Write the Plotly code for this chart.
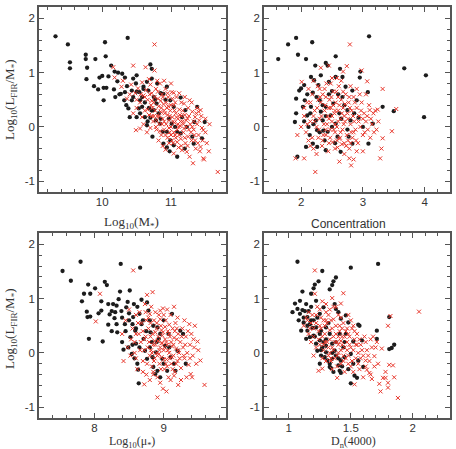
import plotly.graph_objects as go

# ---------------- data ----------------
# Panel 1: Log10(M*) vs Log10(L_FIR/M*)
black1_x = [9.32, 9.50, 9.53, 9.53, 9.76, 9.76, 9.78, 9.77, 9.90, 9.88, 9.94, 9.96, 10.00, 10.02, 10.04, 10.05,
            10.02, 10.06, 10.09, 10.13, 10.37, 10.18, 10.23, 10.17, 10.22, 10.19, 10.29, 10.33, 10.36, 10.27,
            10.32, 10.38, 10.40, 10.43, 10.45, 10.49, 10.54, 10.55, 10.53, 10.50, 10.60, 10.65, 10.67, 10.72,
            10.70, 10.75, 10.79, 10.75, 10.70, 10.65, 10.82, 10.84, 10.88, 10.73, 10.89, 10.94, 10.99, 11.04,
            11.09, 11.14, 11.16, 11.21, 11.23, 11.31, 11.33, 11.34, 11.38, 11.45, 11.49, 10.94, 10.99, 11.04,
            10.89, 10.80, 10.43, 10.58, 10.62, 10.78, 11.09, 11.01, 10.94, 11.14, 10.72, 10.33,
            10.45, 10.50, 10.58, 10.62, 10.68, 10.72, 10.77, 10.85, 10.92, 10.60, 10.55, 10.66, 10.85, 10.97,
            11.06, 10.98, 11.20, 10.50, 10.25, 10.35]
black1_y = [1.67, 1.52, 1.19, 1.08, 1.33, 1.25, 1.09, 0.88, 1.25, 0.75, 0.69, 0.91, 0.94, 0.72, 1.56, 1.30,
            0.49, 0.72, 0.93, 1.13, 1.64, 1.02, 1.00, 0.69, 0.84, 0.55, 0.98, 0.91, 0.75, 0.61,
            0.49, 0.34, 0.18, 0.67, 0.89, 0.80, 0.64, 0.49, 0.34, 0.18, 0.74, 0.83, 0.67, 1.07,
            1.15, 0.55, 0.43, 0.31, 0.17, 0.03, 0.25, 0.06, -0.09, -0.18, -0.31, -0.38, -0.25, -0.34,
            -0.55, -0.12, 0.18, 0.31, 0.00, -0.18, -0.31, 0.09, 0.37, -0.21, 0.09, 0.74, 0.49, 0.37,
            0.61, 0.80, 0.49, 0.37, 0.18, 0.12, -0.09, 0.06, -0.09, 0.54, 0.89, 0.64,
            0.55, 0.65, 0.55, 0.45, 0.35, 0.30, 0.50, 0.62, 0.50, 0.70, 0.25, 0.10, 0.15, 0.15,
            0.00, -0.45, -0.40, 0.95, 0.60, 0.40]
red1_x = [10.16, 10.18, 10.28, 10.36, 10.45, 10.63, 10.76, 10.76, 10.42, 10.48, 10.52, 10.55, 10.58, 10.60,
          10.62, 10.64, 10.66, 10.68, 10.70, 10.71, 10.72, 10.74, 10.75, 10.77, 10.78, 10.79, 10.80, 10.81,
          10.82, 10.83, 10.84, 10.85, 10.86, 10.87, 10.88, 10.89, 10.90, 10.91, 10.92, 10.93, 10.94, 10.95,
          10.96, 10.97, 10.98, 10.99, 11.00, 11.01, 11.02, 11.03, 11.04, 11.05, 11.06, 11.07, 11.08, 11.09,
          11.10, 11.11, 11.12, 11.13, 11.14, 11.15, 11.16, 11.17, 11.18, 11.19, 11.20, 11.21, 11.22, 11.23,
          11.24, 11.25, 11.27, 11.27, 11.28, 11.30, 11.31, 11.32, 11.33, 11.35, 11.36, 11.38, 11.40, 11.41,
          11.43, 11.43, 11.45, 11.47, 11.47, 11.50, 11.52, 11.68, 11.04, 10.49, 10.55, 10.60, 10.65, 10.70,
          10.72, 10.82, 10.88, 10.92, 10.97, 11.00, 10.90, 10.80, 10.68, 11.12, 11.20, 11.30, 11.38, 10.50,
          10.45, 10.58, 10.85, 10.95, 11.05, 11.15, 11.25, 11.35, 11.42, 11.00, 11.10, 11.48, 11.40, 11.04,
          10.73, 10.76, 10.79, 10.81, 10.84, 10.86, 10.88, 10.90, 10.92, 10.93, 10.95, 10.97, 10.98, 11.00,
          11.01, 11.03, 11.04, 11.06, 11.08, 11.09, 11.11, 11.12, 11.14, 11.15, 11.17, 11.18, 11.20, 11.22,
          11.24, 11.26, 11.29, 11.31, 11.34, 11.37, 11.39, 11.44, 11.46, 11.50, 11.55, 11.56, 10.62, 10.66,
          10.69, 10.72, 10.75, 10.78, 10.83, 10.87, 10.90, 10.96, 11.02, 11.07, 11.13, 11.19, 11.26, 11.33,
          10.56, 10.50, 10.40, 10.30]
red1_y = [1.10, 0.91, 0.74, 0.52, 1.13, 1.10, 1.04, 1.52, 0.78, 0.62, 0.71, 0.45, 0.82, 0.58,
          0.30, 0.68, 0.50, 0.22, 0.78, 0.40, 0.62, 0.10, 0.45, 0.30, 0.70, -0.05, 0.20, 0.52,
          0.38, 0.05, 0.80, 0.28, -0.15, 0.60, 0.15, 0.42, -0.05, 0.25, 0.70, 0.05, 0.35, -0.20,
          0.55, 0.12, -0.10, 0.30, 0.00, 0.64, 0.18, -0.30, 0.40, 0.08, -0.15, 0.25, 0.55, -0.05,
          0.15, -0.38, 0.32, 0.02, -0.22, 0.45, -0.43, 0.10, -0.10, 0.43, 0.22, -0.30, 0.00, -0.46,
          0.15, -0.18, 0.49, -0.55, 0.05, -0.25, 0.28, -0.67, -0.05, 0.18, -0.40, 0.05, -0.15, 0.12,
          0.31, -0.37, -0.02, -0.06, -0.58, 0.15, -0.30, -0.83, -0.49, -0.06, -0.03, 0.05, -0.10, -0.02,
          0.20, -0.25, -0.35, -0.42, -0.30, 0.80, 0.85, 0.85, 0.88, 0.62, 0.55, 0.45, 0.35, 0.35,
          0.25, 0.18, 0.48, 0.22, 0.30, 0.20, 0.35, -0.25, -0.45, -0.15, 0.05, -0.60, 0.28, 0.63,
          0.35, 0.55, 0.12, 0.65, -0.08, 0.35, 0.55, 0.10, -0.15, 0.45, 0.62, -0.02, 0.20, 0.40,
          -0.25, 0.10, -0.10, 0.45, 0.18, -0.28, 0.00, -0.15, 0.10, -0.35, 0.30, 0.05, -0.20, 0.12,
          -0.35, 0.20, -0.10, 0.00, -0.15, 0.25, -0.30, 0.20, -0.25, -0.10, -0.45, 0.05, 0.55, 0.32,
          0.60, 0.48, 0.20, 0.00, 0.20, 0.05, 0.30, 0.38, 0.52, -0.20, 0.22, -0.03, -0.05, 0.10,
          0.60, 0.50, 0.60, 0.85]

# Panel 2: Concentration
black2_x = [1.63, 1.79, 1.92, 1.95, 2.08, 2.18, 2.23, 2.40, 2.43, 2.56, 2.63, 3.10, 3.67, 4.02, 3.99, 3.50,
            3.32, 3.08, 3.09, 3.16, 1.94, 1.90, 1.92, 1.92, 1.97, 2.00, 2.05, 2.08, 2.06, 2.03, 2.12, 2.14,
            2.16, 2.19, 2.19, 2.26, 2.28, 2.30, 2.32, 2.35, 2.36, 2.38, 2.40, 2.45, 2.50, 2.52, 2.48, 2.56,
            2.59, 2.64, 2.67, 2.72, 2.75, 2.80, 2.83, 2.90, 2.93, 2.95, 2.96, 3.00, 2.24, 2.16, 2.40, 2.62,
            2.67, 2.43, 2.26, 2.83, 2.86, 2.21, 2.10, 2.56, 2.77, 2.32,
            2.10, 2.15, 2.25, 2.35, 2.45, 2.50, 2.60, 2.70, 2.30, 2.20, 2.40, 2.55, 2.05, 2.65, 2.75]
black2_y = [1.25, 1.52, 1.64, 1.33, 1.25, 1.56, 1.13, 1.18, 1.13, 1.30, 1.07, 1.67, 1.08, 0.95, 0.18, 0.29,
            0.37, 0.64, -0.31, 0.06, -0.55, 0.09, 0.52, 0.25, 0.67, 0.71, 0.77, -0.37, 0.49, 0.37, 0.00, -0.15,
            0.92, 0.63, -0.31, -0.37, 0.77, 0.49, 0.28, 0.12, -0.07, -0.25, -0.43, 0.83, 0.66, 0.43, 0.21, 0.06,
            -0.18, -0.46, 0.55, 0.74, 0.31, 0.12, -0.31, 0.49, 0.17, 0.91, 1.02, 0.00, 0.12, 0.37, 0.37, 0.25,
            0.92, -0.09, -0.06, 0.67, 0.25, 0.86, 0.21, 0.92, -0.18, 0.95,
            0.60, 0.25, 0.55, 0.40, 0.60, 0.00, 0.60, 0.40, -0.10, 0.05, 0.20, -0.30, 0.10, 0.15, -0.05]
red2_x = [1.91, 2.05, 1.94, 2.23, 2.62, 2.78, 2.81, 3.28, 3.30, 3.32, 3.47, 3.54, 3.32, 3.07, 2.98, 2.79,
          2.74, 2.68, 2.45, 2.32, 2.01, 3.24, 3.11, 3.15, 2.00, 2.05, 2.08, 2.10, 2.12, 2.15, 2.18, 2.20,
          2.22, 2.25, 2.27, 2.28, 2.30, 2.32, 2.34, 2.35, 2.37, 2.38, 2.40, 2.41, 2.43, 2.44, 2.46, 2.47,
          2.48, 2.50, 2.51, 2.52, 2.54, 2.55, 2.56, 2.58, 2.59, 2.60, 2.61, 2.63, 2.64, 2.65, 2.67, 2.68,
          2.70, 2.71, 2.72, 2.74, 2.75, 2.77, 2.78, 2.80, 2.82, 2.83, 2.85, 2.86, 2.88, 2.90, 2.92, 2.94,
          2.96, 2.98, 3.00, 3.02, 3.05, 3.08, 3.10, 3.13, 3.18, 3.20, 3.25, 3.00, 2.90, 2.85, 2.70, 2.55,
          2.45, 2.35, 2.25, 2.15, 2.12, 2.20, 2.50, 2.65, 2.90, 3.05, 2.95, 2.80, 2.60, 2.40, 2.30, 2.20,
          2.55, 2.70, 2.85, 3.00, 2.45, 2.62, 2.76,
          2.22, 2.26, 2.29, 2.31, 2.33, 2.36, 2.39, 2.42, 2.45, 2.47, 2.49, 2.50, 2.53, 2.55, 2.57, 2.58,
          2.60, 2.62, 2.64, 2.66, 2.69, 2.71, 2.73, 2.76, 2.79, 2.81, 2.84, 2.87, 2.89, 2.93, 2.97, 3.03,
          3.07, 3.12, 3.17, 3.22, 2.15, 2.10, 2.05, 2.18, 2.28, 2.38, 2.48, 2.58, 2.68, 2.78, 2.40, 2.52,
          2.66, 2.80]
red2_y = [-0.58, -0.58, -0.15, -0.83, -0.64, -0.58, -0.71, -0.58, -0.40, -0.21, -0.08, 0.33, 0.70, 0.84, 1.04, 1.52,
          1.12, 1.02, 1.13, 1.09, 0.83, 0.32, 0.31, 0.05, 0.00, 0.20, -0.10, 0.45, -0.25, 0.10, 0.60, -0.40,
          0.30, 0.00, 0.75, -0.20, 0.15, 0.45, -0.35, 0.60, 0.05, 0.30, -0.15, 0.80, 0.20, -0.45, 0.50, -0.05,
          0.35, 0.10, -0.28, 0.65, 0.25, -0.10, 0.45, 0.00, -0.38, 0.30, 0.75, -0.20, 0.15, 0.50, -0.05, 0.35,
          -0.30, 0.10, 0.60, -0.15, 0.25, 0.45, -0.40, 0.05, 0.30, -0.20, 0.55, 0.10, -0.05, 0.35, -0.30, 0.20,
          0.00, 0.45, -0.15, 0.25, 0.10, -0.05, 0.40, 0.15, -0.10, 0.30, 0.10, -0.45, -0.45, -0.60, -0.50, -0.40,
          -0.30, -0.25, -0.50, -0.35, 0.70, 0.85, 0.90, 0.85, 0.70, 0.60, 0.60, 0.75, 0.55, 0.55, 0.70, 0.20,
          0.05, 0.20, -0.10, 0.15, 0.15, -0.22, -0.25,
          0.10, 0.35, -0.05, 0.55, 0.20, -0.15, 0.40, 0.05, 0.35, -0.20, 0.55, 0.20, -0.05, 0.30, 0.65, -0.25,
          0.10, 0.40, -0.10, 0.25, 0.05, 0.42, -0.35, 0.15, 0.35, -0.10, 0.20, 0.45, -0.25, 0.10, 0.30, -0.10,
          0.20, -0.20, 0.25, -0.05, 0.45, 0.05, 0.35, -0.20, 0.50, 0.70, 0.80, 0.90, 0.65, 0.55, -0.05, 0.40,
          -0.32, -0.30]

# Panel 3: Log10(mu*)
black3_x = [7.54, 7.66, 7.80, 7.82, 7.91, 7.94, 7.85, 7.89, 7.90, 7.94, 7.92, 8.01, 8.06, 8.12, 8.10, 8.15,
            8.18, 8.20, 8.22, 8.25, 8.27, 8.29, 8.32, 8.33, 8.35, 8.38, 8.37, 8.39, 8.40, 8.42, 8.44, 8.46,
            8.48, 8.50, 8.51, 8.52, 8.54, 8.55, 8.57, 8.59, 8.60, 8.62, 8.63, 8.64, 8.65, 8.66, 8.68, 8.71,
            8.73, 8.76, 8.78, 8.80, 8.81, 8.83, 8.85, 8.88, 8.89, 8.91, 8.93, 8.95, 8.98, 9.00, 9.02, 9.05,
            9.07, 9.10, 9.12, 9.15, 9.17, 9.20, 9.24, 9.28, 9.32, 8.76, 8.49, 8.56, 8.68, 8.84, 8.91, 8.32,
            8.45, 8.50, 8.55, 8.60, 8.65, 8.70, 8.75, 8.80, 8.85, 8.90, 8.95, 9.00, 8.58, 8.40, 8.30, 8.20,
            8.10, 8.25, 8.62, 9.08]
black3_y = [1.51, 1.33, 1.68, 0.95, 1.26, 1.09, 1.09, 0.76, 0.66, 0.67, 0.26, 1.19, 0.73, 0.21, 0.78, 1.31,
            1.25, 0.52, 0.71, 0.77, 0.90, 0.64, 0.53, 0.38, 0.99, 1.64, 1.13, 0.77, 0.20, 0.06, 0.53, 0.84,
            0.94, 0.73, 1.15, 0.29, -0.02, 0.53, 0.90, 0.41, 0.17, -0.20, -0.31, -0.56, 0.72, 1.57, 0.53, 0.26,
            0.04, -0.11, 0.78, 0.60, 0.38, 0.20, -0.26, -0.39, 0.01, 0.47, 0.26, -0.45, -0.11, 0.60, 0.13, -0.33,
            0.35, -0.08, 0.72, -0.20, -0.33, 0.04, 0.41, 0.35, -0.20, 0.93, 0.10, 0.66, 0.98, -0.08, -0.33, 0.87,
            0.40, 0.60, 0.15, 0.45, 0.10, 0.60, 0.40, 0.10, 0.50, 0.20, 0.35, -0.20, -0.10, 0.65, 0.75, 0.90,
            0.95, 0.40, 0.85, 0.10]
red3_x = [8.56, 8.08, 8.02, 8.76, 8.84, 8.73, 8.99, 8.91, 9.04, 8.72, 9.21, 9.59, 9.49, 9.45, 9.37, 9.53,
          9.39, 9.41, 8.40, 8.42, 8.45, 8.48, 8.50, 8.52, 8.55, 8.58, 8.60, 8.62, 8.64, 8.66, 8.68, 8.70,
          8.72, 8.74, 8.75, 8.77, 8.78, 8.80, 8.81, 8.82, 8.83, 8.85, 8.86, 8.87, 8.88, 8.90, 8.91, 8.92,
          8.93, 8.94, 8.95, 8.96, 8.97, 8.98, 8.99, 9.00, 9.01, 9.02, 9.03, 9.04, 9.05, 9.06, 9.07, 9.08,
          9.09, 9.10, 9.11, 9.12, 9.13, 9.14, 9.15, 9.16, 9.17, 9.18, 9.20, 9.21, 9.22, 9.24, 9.25, 9.27,
          9.28, 9.30, 9.32, 9.34, 9.36, 9.38, 9.40, 9.42, 9.44, 9.47, 9.50, 9.33, 9.25, 9.10, 8.95, 8.80,
          8.85, 8.70, 8.60, 8.65, 8.80, 8.95, 9.05, 9.20, 9.30, 9.15, 8.90, 8.75, 8.98, 9.03, 8.87, 9.12,
          8.93, 9.08, 8.82, 9.19, 8.97,
          8.70, 8.72, 8.74, 8.76, 8.79, 8.81, 8.83, 8.84, 8.86, 8.88, 8.90, 8.91, 8.92, 8.94, 8.95, 8.96,
          8.97, 8.99, 9.00, 9.01, 9.02, 9.04, 9.05, 9.06, 9.08, 9.09, 9.11, 9.13, 9.14, 9.16, 9.18, 9.19,
          9.21, 9.23, 9.26, 9.29, 9.31, 9.35, 9.38, 9.43, 8.60, 8.63, 8.67, 8.58, 8.53, 8.78, 8.88, 9.00,
          8.85, 9.15]
red3_y = [1.52, 1.09, 0.58, 1.07, 1.12, 0.90, -0.66, -0.82, -0.71, -0.58, -0.59, -0.59, 0.21, 0.50, 0.53, -0.14,
          -0.39, -0.45, 0.35, -0.15, 0.60, 0.10, 0.80, -0.05, 0.45, 0.20, 0.70, -0.30, 0.35, 0.05, 0.55, -0.15,
          0.25, 0.75, -0.40, 0.10, 0.45, -0.05, 0.30, 0.85, -0.25, 0.15, 0.60, -0.10, 0.38, 0.00, -0.45, 0.22,
          0.70, -0.20, 0.10, 0.50, -0.08, 0.32, 0.82, 0.05, -0.30, 0.25, 0.60, -0.12, 0.15, 0.40, -0.45, 0.00,
          0.30, 0.70, -0.20, 0.12, 0.45, -0.05, 0.28, -0.35, 0.55, 0.08, -0.15, 0.35, 0.00, 0.20, -0.28, 0.45,
          0.10, -0.10, 0.30, 0.00, -0.22, 0.15, 0.35, -0.05, 0.10, -0.20, 0.05, -0.45, -0.50, -0.50, -0.55, -0.50,
          -0.35, -0.35, -0.10, 0.75, 0.72, 0.78, 0.80, 0.65, 0.60, 0.85, 0.55, 0.60, 0.18, -0.20, 0.22, -0.08,
          -0.02, 0.52, 0.05, 0.45, 0.42,
          0.40, 0.05, 0.30, -0.20, 0.20, 0.55, 0.00, 0.35, -0.15, 0.15, 0.45, -0.05, 0.30, 0.05, 0.62, -0.30,
          0.18, 0.38, -0.12, 0.10, 0.48, 0.20, -0.25, 0.05, 0.35, -0.10, 0.20, -0.30, 0.15, 0.40, -0.20, 0.25,
          0.05, -0.10, 0.30, -0.05, 0.15, 0.40, -0.10, 0.25, 0.35, 0.55, 0.20, 0.00, 0.25, 0.65, 0.75, 0.70,
          -0.40, -0.42]

# Panel 4: Dn(4000)
black4_x = [1.07, 1.72, 1.50, 1.27, 1.38, 1.36, 1.35, 1.33, 1.24, 1.21, 1.20, 1.18, 1.11, 1.09, 1.05, 1.03,
            1.07, 1.09, 1.11, 1.13, 1.15, 1.16, 1.12, 1.17, 1.19, 1.15, 1.17, 1.20, 1.22, 1.23, 1.25, 1.26,
            1.27, 1.29, 1.30, 1.31, 1.33, 1.34, 1.35, 1.37, 1.38, 1.40, 1.41, 1.42, 1.38, 1.37, 1.40, 1.42,
            1.46, 1.48, 1.50, 1.52, 1.52, 1.53, 1.55, 1.50, 1.56, 1.56, 1.57, 1.59, 1.60, 1.71, 1.71, 1.81,
            1.81, 1.83, 1.85, 1.25, 1.28, 1.22, 1.14, 1.18, 1.30, 1.33, 1.35, 1.44, 1.45, 1.46, 1.22, 1.26,
            1.30, 1.41, 1.42, 1.10, 1.14, 1.25,
            1.15, 1.20, 1.25, 1.28, 1.32, 1.35, 1.38, 1.40, 1.30, 1.23, 1.18, 1.12, 1.08, 1.33, 1.36, 1.45,
            1.48, 1.26, 1.43, 1.21]
black4_y = [1.68, 1.64, 1.57, 1.51, 1.39, 1.32, 1.25, 1.17, 1.32, 1.26, 1.19, 1.09, 1.13, 0.96, 0.91, 0.75,
            0.81, 0.72, 0.79, 0.77, 0.66, 0.77, 0.56, 0.53, 0.46, 0.41, 0.29, 0.32, 0.17, 0.04, 0.23, -0.05,
            0.10, -0.08, 0.01, -0.14, -0.26, -0.28, -0.11, 0.04, -0.05, -0.23, -0.33, -0.37, 0.81, 0.90, 0.75, 0.63,
            0.69, 0.56, -0.02, -0.20, 0.21, -0.42, -0.46, -0.56, -0.14, 0.52, 0.50, 0.23, -0.26, 0.41, 0.26, 0.66,
            0.07, 0.09, 0.15, 0.72, 0.84, 0.96, 0.90, 0.60, 0.47, 0.35, 0.17, 0.10, -0.08, 0.35, 0.47, 0.41,
            0.13, 0.35, -0.14, 0.41, 0.26, -0.20,
            0.50, 0.60, 0.35, 0.20, 0.55, 0.00, 0.20, -0.10, 0.25, 0.65, 0.85, 0.65, 0.60, -0.20, -0.35, 0.20,
            -0.30, 0.05, -0.25, 0.30]
red4_x = [1.21, 1.21, 1.44, 1.35, 1.42, 2.05, 1.82, 1.80, 1.68, 1.69, 1.81, 1.84, 1.88, 1.80, 1.80, 1.73,
          1.74, 1.76, 1.78, 1.63, 1.65, 1.66, 1.67, 1.53, 1.39, 1.27, 1.24, 1.62, 1.15, 1.17, 1.19, 1.20,
          1.22, 1.23, 1.24, 1.25, 1.26, 1.27, 1.28, 1.29, 1.30, 1.31, 1.32, 1.33, 1.34, 1.35, 1.36, 1.37,
          1.38, 1.39, 1.40, 1.41, 1.42, 1.43, 1.44, 1.45, 1.46, 1.47, 1.48, 1.49, 1.50, 1.51, 1.52, 1.53,
          1.54, 1.55, 1.56, 1.57, 1.58, 1.60, 1.61, 1.63, 1.65, 1.66, 1.70, 1.72, 1.75, 1.78, 1.85, 1.60,
          1.45, 1.35, 1.30, 1.27, 1.33, 1.40, 1.50, 1.38, 1.18, 1.20, 1.22, 1.30, 1.36, 1.42, 1.47, 1.52,
          1.34, 1.39, 1.44, 1.25, 1.29, 1.33, 1.40, 1.55, 1.48, 1.58, 1.12, 1.16, 1.43,
          1.24, 1.26, 1.28, 1.29, 1.31, 1.32, 1.33, 1.34, 1.35, 1.36, 1.37, 1.38, 1.39, 1.40, 1.41, 1.42,
          1.43, 1.44, 1.45, 1.46, 1.47, 1.48, 1.49, 1.50, 1.51, 1.53, 1.54, 1.56, 1.57, 1.59, 1.62, 1.64,
          1.67, 1.69, 1.71, 1.22, 1.25, 1.28, 1.32, 1.36, 1.20, 1.18, 1.16, 1.14, 1.30, 1.27, 1.42, 1.48,
          1.52, 1.62]
red4_y = [1.52, 1.09, 1.10, 1.01, 0.91, 0.76, 0.68, 0.50, 0.30, -0.06, -0.22, -0.23, -0.83, -0.64, -0.55, -0.57,
          -0.71, -0.46, -0.46, -0.31, -0.37, -0.40, -0.48, -0.58, -0.46, -0.29, -0.33, -0.14, 0.60, 0.45, 0.70, 0.30,
          0.55, 0.85, 0.40, 0.15, 0.65, 0.30, 0.05, 0.50, 0.75, 0.20, -0.05, 0.42, 0.60, 0.10, 0.30, -0.10,
          0.50, 0.20, 0.00, 0.40, -0.20, 0.15, 0.55, 0.30, -0.10, 0.05, 0.35, 0.15, -0.25, 0.45, 0.05, 0.25,
          -0.10, 0.35, 0.00, -0.30, 0.15, -0.05, 0.30, 0.05, -0.15, 0.25, 0.10, -0.20, 0.08, -0.35, -0.45, -0.45,
          -0.35, -0.30, 0.90, 0.95, 0.80, 0.70, 0.60, 0.85, 0.20, -0.05, 0.10, 0.60, 0.62, 0.22, 0.45, 0.50,
          -0.15, -0.25, -0.05, 0.50, 0.20, 0.00, 0.30, 0.15, -0.20, -0.10, 0.50, 0.35, 0.45,
          0.25, 0.45, 0.15, 0.35, 0.55, 0.10, 0.25, -0.10, 0.45, 0.05, 0.20, 0.35, -0.05, 0.15, 0.50, 0.05,
          0.30, -0.15, 0.10, 0.40, 0.20, -0.05, 0.30, 0.10, -0.15, 0.40, 0.15, -0.20, 0.25, 0.05, 0.20, -0.05,
          0.10, -0.25, 0.20, 0.70, 0.80, 0.60, 0.70, 0.85, 0.45, 0.55, 0.75, 0.65, -0.15, -0.10, 0.65, 0.70,
          -0.35, -0.25]

x_titles = ["Log<sub>10</sub>(M<sub>*</sub>)", "Concentration",
            "Log<sub>10</sub>(\u03bc<sub>*</sub>)", "D<sub>n</sub>(4000)"]
y_title = "Log<sub>10</sub>(L<sub>FIR</sub>/M<sub>*</sub>)"
x_ranges = [[9.08, 11.8], [1.4, 4.41], [7.2, 9.9], [0.8, 2.3]]
x_tickvals = [[10, 11], [2, 3, 4], [8, 9], [1, 1.5, 2]]
x_ticktext = [["10", "11"], ["2", "3", "4"], ["8", "9"], ["1", "1.5", "2"]]
x_minor = [0.2, 0.2, 0.2, 0.1]
y_range = [-1.2, 2.21]
y_tickvals = [-1, 0, 1, 2]
y_ticktext = ["-1", "0", "1", "2"]

W, H = 456, 449
panels_px = [(39, 226, 7, 192), (264, 450, 7, 192), (39, 226, 233, 418), (264, 450, 233, 418)]

blacks = [(black1_x, black1_y), (black2_x, black2_y), (black3_x, black3_y), (black4_x, black4_y)]
reds = [(red1_x, red1_y), (red2_x, red2_y), (red3_x, red3_y), (red4_x, red4_y)]

fig = go.Figure()
frame_col = "#555555"
for i in range(4):
    suf = "" if i == 0 else str(i + 1)
    bx, by = blacks[i]
    rx, ry = reds[i]
    fig.add_trace(go.Scatter(x=bx, y=by, mode="markers", xaxis="x" + suf, yaxis="y" + suf,
                             marker=dict(symbol="circle", size=4.3, color="#1c1c1c", line=dict(width=0)),
                             showlegend=False, hoverinfo="skip"))
    fig.add_trace(go.Scatter(x=rx, y=ry, mode="markers", xaxis="x" + suf, yaxis="y" + suf,
                             marker=dict(symbol="x-thin-open", size=4, color="#e8372c",
                                         line=dict(width=1, color="#e8372c")),
                             showlegend=False, hoverinfo="skip"))

layout = dict(width=W, height=H, margin=dict(l=0, r=0, t=0, b=0),
              paper_bgcolor="white", plot_bgcolor="white", showlegend=False)
annotations = []
for i, (x0, x1, y0, y1) in enumerate(panels_px):
    suf = "" if i == 0 else str(i + 1)
    axcommon = dict(showline=True, linecolor=frame_col, linewidth=1.5, mirror="ticks",
                    ticks="inside", ticklen=5, tickwidth=1, tickcolor=frame_col,
                    showgrid=False, zeroline=False,
                    tickfont=dict(family="Liberation Sans, Arial, sans-serif", size=11.5, color="#333333"))
    layout["xaxis" + suf] = dict(axcommon, domain=[x0 / W, x1 / W], range=x_ranges[i],
                                 anchor="y" + suf, tickvals=x_tickvals[i], ticktext=x_ticktext[i],
                                 ticklabelstandoff=-2,
                                 minor=dict(ticks="inside", dtick=x_minor[i], ticklen=3,
                                            tickcolor=frame_col, showgrid=False))
    layout["yaxis" + suf] = dict(axcommon, domain=[1 - y1 / H, 1 - y0 / H], range=y_range,
                                 anchor="x" + suf, tickvals=y_tickvals, ticktext=y_ticktext,
                                 minor=dict(ticks="inside", dtick=0.2, ticklen=3,
                                            tickcolor=frame_col, showgrid=False))

# axis titles as annotations
xt_pos = [(131, 222), (348, 224), (132, 442), (353, 442)]
xt_size = [13, 12, 12, 12]
for i, (px, py) in enumerate(xt_pos):
    fnt = dict(family="Liberation Sans, Arial, sans-serif", size=xt_size[i], color="#333333") if i == 1 else \
        dict(family="Liberation Serif, Times New Roman, serif", size=xt_size[i], color="#333333")
    annotations.append(dict(text=x_titles[i], x=px / W, y=1 - py / H, xref="paper", yref="paper",
                            xanchor="center", yanchor="middle", showarrow=False, font=fnt))
for py in [100, 329]:
    annotations.append(dict(text=y_title, x=10 / W, y=1 - py / H, xref="paper", yref="paper",
                            xanchor="center", yanchor="middle", showarrow=False, textangle=-90,
                            font=dict(family="Liberation Serif, Times New Roman, serif", size=13,
                                      color="#333333")))
layout["annotations"] = annotations
fig.update_layout(layout)
fig.write_html("out.html")
